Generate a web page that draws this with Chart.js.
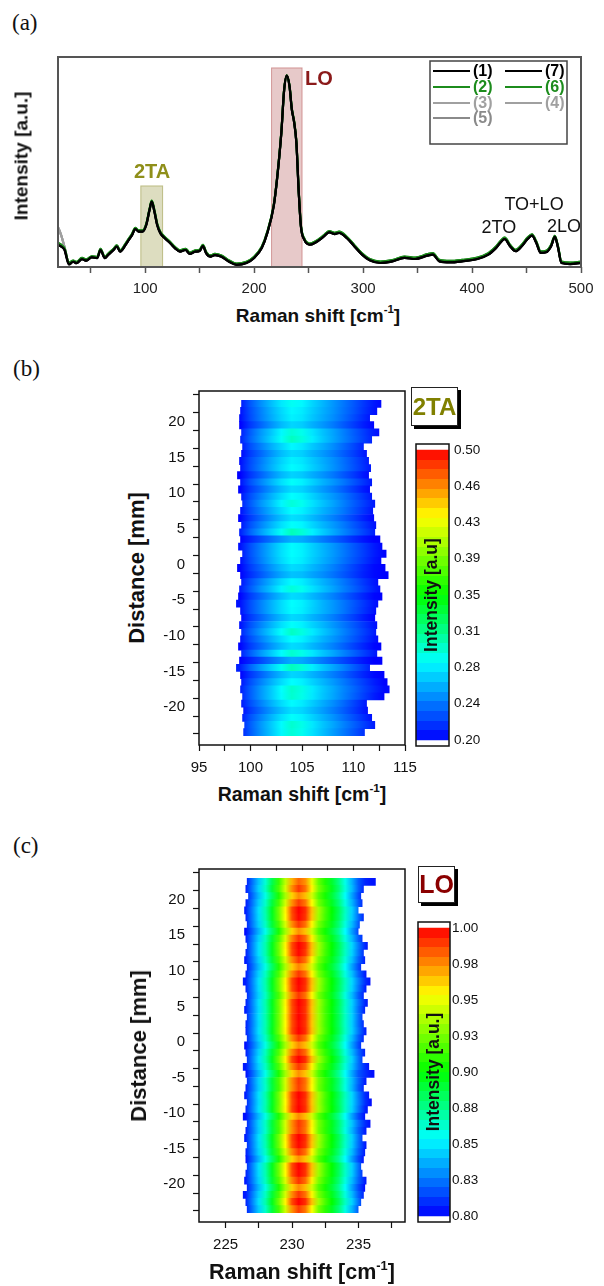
<!DOCTYPE html>
<html>
<head>
<meta charset="utf-8">
<script src="https://cdn.jsdelivr.net/npm/chart.js@4.4.0/dist/chart.umd.min.js"></script>
<style>
  body { margin: 0; width: 604px; height: 1286px; background: #fff; position: relative; overflow: hidden;
         font-family: "Liberation Sans", Arial, sans-serif; }
  canvas { position: absolute; }
  .panel { position: absolute; font-family: "Liberation Serif", "Times New Roman", serif; font-size: 23px;
           color: #111; line-height: 1; transform: translateY(-50%); }
  .ttl { position: absolute; font-weight: bold; color: #111; white-space: nowrap; line-height: 1;
         transform: translate(-50%, -50%); }
  .ttl.v { transform: translate(-50%, -50%) rotate(-90deg); }
  .ttl sup { font-size: 0.6em; vertical-align: 0.75em; line-height: 0; }
  .tag { position: absolute; background: #fff; border: 1.5px solid #222; box-shadow: 3px 3px 0 #000;
         font-weight: bold; display: flex; align-items: center; justify-content: center; box-sizing: border-box; }
</style>
</head>
<body>

<div class="panel" style="left:12px;top:22px">(a)</div>
<div class="panel" style="left:13px;top:368px">(b)</div>
<div class="panel" style="left:13px;top:845px">(c)</div>

<canvas id="spec" width="575" height="253" style="left:20px;top:47px"></canvas>
<canvas id="mapTA" width="275" height="397" style="left:150px;top:383px"></canvas>
<canvas id="cbTA" width="85" height="320" style="left:410px;top:436px"></canvas>
<canvas id="mapLO" width="275" height="397" style="left:150px;top:861px"></canvas>
<canvas id="cbLO" width="85" height="320" style="left:410px;top:914px"></canvas>

<div class="ttl" style="left:318px;top:315px;font-size:19px">Raman shift [cm<sup>-1</sup>]</div>
<div class="ttl v" style="left:21px;top:156px;font-size:19px">Intensity [a.u.]</div>
<div class="ttl" style="left:302px;top:795px;font-size:19.5px">Raman shift [cm<sup>-1</sup>]</div>
<div class="ttl v" style="left:137px;top:568px;font-size:22px">Distance [mm]</div>
<div class="ttl" style="left:302px;top:1273px;font-size:21.5px">Raman shift [cm<sup>-1</sup>]</div>
<div class="ttl v" style="left:139px;top:1046px;font-size:22px">Distance [mm]</div>

<div class="tag" style="left:411px;top:387px;width:47px;height:39px;font-size:24px;color:#808000">2TA</div>
<div class="tag" style="left:418px;top:866px;width:37px;height:37px;font-size:25px;color:#8b0000">LO</div>

<script>
// ---- (a) Raman spectra ----
const ramanShift = [20,23,26,30,34,37,42,46,51,56, 59,63,66,71,74,77,82,85,88,91,
  94,97.5,101,104,106,108.5,111,114,118,123, 127.5,132,137,141,146,150,153,156,160,164,
  170,177,184,193,200,207,212,218,221,225, 227.5,230,232.5,234.6,236.7,238.8,241,243,246,251,
  256.5,263.5,269,274,278,285,292,299,306,316, 327,338,348,359,364,370,380,391,405,415,
  422,430,435,440,445,451,455,459,463,468, 472.5,476,479,482,490,500];
const specBlack = [0.105,0.097,0.081,0.012,0.025,0.018,0.037,0.030,0.046,0.042,
  0.081,0.042,0.057,0.081,0.097,0.073,0.105,0.129,0.152,0.181,
  0.168,0.168,0.200,0.271,0.311,0.263,0.200,0.160,0.137,0.113,
  0.089,0.073,0.081,0.062,0.073,0.076,0.100,0.065,0.049,0.057,
  0.049,0.025,0.010,0.019,0.043,0.090,0.160,0.290,0.416,0.640,
  0.840,0.911,0.860,0.750,0.690,0.590,0.350,0.190,0.130,0.106,
  0.117,0.143,0.165,0.157,0.162,0.138,0.098,0.059,0.032,0.019,
  0.027,0.043,0.038,0.054,0.059,0.027,0.022,0.027,0.038,0.059,
  0.090,0.133,0.098,0.075,0.095,0.133,0.149,0.114,0.067,0.070,
  0.098,0.143,0.090,0.019,0.014,0.019];
const specGreen = [0.115,0.105,0.088,0.020,0.030,0.024,0.043,0.036,0.051,0.048,
  0.086,0.048,0.063,0.087,0.103,0.079,0.111,0.135,0.158,0.187,
  0.174,0.174,0.206,0.276,0.316,0.270,0.207,0.167,0.143,0.119,
  0.095,0.079,0.087,0.068,0.079,0.082,0.106,0.071,0.055,0.063,
  0.055,0.031,0.016,0.025,0.049,0.096,0.166,0.296,0.420,0.644,
  0.842,0.913,0.862,0.754,0.694,0.595,0.356,0.196,0.136,0.112,
  0.123,0.149,0.171,0.163,0.168,0.144,0.104,0.065,0.038,0.026,
  0.033,0.050,0.045,0.061,0.066,0.034,0.029,0.034,0.045,0.066,
  0.097,0.140,0.105,0.082,0.102,0.140,0.156,0.121,0.074,0.077,
  0.105,0.148,0.096,0.026,0.021,0.026];
const specGray = [0.190,0.150,0.095,0.020,0.028,0.020,0.040,0.032,0.048,0.044,
  0.083,0.044,0.059,0.083,0.099,0.075,0.106,0.131,0.154,0.183,
  0.170,0.170,0.202,0.272,0.310,0.264,0.202,0.162,0.139,0.115,
  0.090,0.075,0.083,0.064,0.075,0.078,0.101,0.067,0.051,0.059,
  0.051,0.027,0.012,0.021,0.045,0.092,0.162,0.292,0.418,0.642,
  0.838,0.905,0.856,0.748,0.688,0.590,0.352,0.192,0.132,0.108,
  0.119,0.145,0.167,0.159,0.164,0.140,0.100,0.061,0.034,0.021,
  0.029,0.045,0.040,0.056,0.061,0.029,0.024,0.029,0.040,0.061,
  0.092,0.135,0.100,0.077,0.097,0.135,0.151,0.116,0.069,0.072,
  0.100,0.145,0.092,0.021,0.016,0.021];
// legend order (two columns): (1) (7) / (2) (6) / (3) (4) / (5)
const seriesLabels = ['(1)', '(7)', '(2)', '(6)', '(3)', '(4)', '(5)'];
const seriesColors = ['#000000', '#000000', '#1c8c1c', '#1c8c1c', '#a0a0a0', '#a0a0a0', '#8a8a8a'];
const seriesData = [specBlack, specBlack, specGreen, specGreen, specGray, specGray, specGray];
const specTicks = [50,100,150,200,250,300,350,400,450,500];

const specBands = [
  { from: 96, to: 116, top: 0.386, fill: 'rgba(150,150,60,0.32)', line: 'rgba(150,150,60,0.55)' },
  { from: 216, to: 244, top: 0.948, fill: 'rgba(170,60,60,0.28)', line: 'rgba(170,60,60,0.45)' },
];
const specNotes = [
  { text: '2TA', x: 106.3, y: 0.452, color: '#8f8f1a', font: 'bold 20px' },
  { text: 'LO', x: 259.5, y: 0.895, color: '#8b1a1a', font: 'bold 20px' },
  { text: '2TO', x: 424.7, y: 0.186, color: '#111', font: '18px' },
  { text: 'TO+LO', x: 456.9, y: 0.295, color: '#111', font: '18px' },
  { text: '2LO', x: 484.4, y: 0.190, color: '#111', font: '18px' },
];

// ---- (b) 2TA map ----
const mapDist = [22.5,21.5,20.5,19.5,18.5,17.5,16.5,15.5,14.5,13.5,12.5,11.5,10.5,9.5,8.5,7.5,6.5,5.5,4.5,3.5,
  2.5,1.5,0.5,-0.5,-1.5,-2.5,-3.5,-4.5,-5.5,-6.5,-7.5,-8.5,-9.5,-10.5,-11.5,-12.5,-13.5,-14.5,-15.5,-16.5,
  -17.5,-18.5,-19.5,-20.5,-21.5,-22.5,-23.5];
const mapYTicks = [-22.5,-20,-17.5,-15,-12.5,-10,-7.5,-5,-2.5,0,2.5,5,7.5,10,12.5,15,17.5,20,22.5];

const taShift = [99,100,101,102,103,104,105,106,107,108,109,110,111,112,113];
const taLeft = [99.1,99.0,98.9,98.9,99.1,99.0,99.2,99.1,98.9,99.0,98.7,99.0,98.8,99.1,99.2,99.0,98.8,99.1,98.9,99.0,
  98.8,99.2,99.0,98.7,99.0,99.1,98.9,98.8,98.6,99.0,99.1,98.9,99.1,99.0,98.8,99.1,98.9,98.6,99.0,99.1,
  99.0,99.2,99.1,99.3,99.2,99.4,99.3];
const taRight = [112.7,112.3,111.6,112.0,112.5,111.8,111.0,111.3,111.5,111.7,111.5,111.8,111.6,111.8,112.1,111.9,112.0,112.2,112.1,112.6,
  112.8,113.2,112.7,113.1,113.4,112.4,112.6,112.8,112.4,112.2,112.1,112.3,112.2,112.4,112.7,112.3,112.8,111.6,113.0,113.3,
  113.5,113.0,111.3,111.4,111.8,112.1,111.1];
const taInt = [
  [0.206,0.228,0.245,0.260,0.274,0.284,0.279,0.268,0.258,0.248,0.238,0.228,0.217,0.207,0.200],
  [0.205,0.225,0.241,0.256,0.269,0.279,0.275,0.265,0.256,0.247,0.237,0.227,0.216,0.206,0.200],
  [0.204,0.224,0.240,0.254,0.267,0.277,0.273,0.263,0.254,0.245,0.235,0.224,0.213,0.203,0.200],
  [0.200,0.218,0.232,0.246,0.259,0.268,0.265,0.256,0.248,0.239,0.229,0.219,0.209,0.201,0.200],
  [0.208,0.230,0.248,0.263,0.279,0.292,0.286,0.273,0.262,0.252,0.241,0.230,0.219,0.208,0.200],
  [0.210,0.232,0.250,0.266,0.283,0.298,0.290,0.276,0.264,0.253,0.242,0.231,0.220,0.209,0.200],
  [0.205,0.225,0.240,0.255,0.268,0.279,0.274,0.264,0.255,0.245,0.234,0.223,0.211,0.200,0.200],
  [0.201,0.219,0.233,0.247,0.260,0.269,0.266,0.257,0.249,0.240,0.230,0.220,0.209,0.200,0.200],
  [0.204,0.224,0.239,0.254,0.267,0.277,0.273,0.264,0.255,0.246,0.236,0.225,0.214,0.203,0.200],
  [0.205,0.225,0.241,0.256,0.270,0.280,0.276,0.266,0.257,0.247,0.237,0.226,0.215,0.204,0.200],
  [0.200,0.217,0.231,0.245,0.258,0.267,0.264,0.255,0.247,0.238,0.228,0.218,0.207,0.200,0.200],
  [0.205,0.226,0.242,0.257,0.271,0.282,0.277,0.267,0.257,0.248,0.238,0.227,0.216,0.205,0.200],
  [0.201,0.219,0.233,0.247,0.260,0.270,0.267,0.258,0.249,0.240,0.230,0.219,0.208,0.200,0.200],
  [0.205,0.225,0.241,0.256,0.270,0.281,0.277,0.267,0.257,0.248,0.238,0.227,0.216,0.205,0.200],
  [0.208,0.229,0.247,0.262,0.278,0.291,0.285,0.272,0.262,0.252,0.241,0.230,0.219,0.208,0.200],
  [0.205,0.225,0.241,0.256,0.270,0.281,0.277,0.267,0.257,0.248,0.238,0.227,0.216,0.205,0.200],
  [0.201,0.219,0.234,0.248,0.261,0.271,0.268,0.259,0.250,0.241,0.231,0.221,0.210,0.201,0.200],
  [0.205,0.226,0.242,0.257,0.271,0.282,0.278,0.268,0.258,0.249,0.239,0.228,0.217,0.206,0.200],
  [0.210,0.232,0.250,0.266,0.284,0.300,0.292,0.277,0.265,0.254,0.243,0.232,0.221,0.210,0.200],
  [0.200,0.212,0.224,0.236,0.247,0.256,0.254,0.247,0.239,0.231,0.223,0.214,0.206,0.200,0.200],
  [0.205,0.225,0.241,0.256,0.270,0.280,0.276,0.266,0.257,0.248,0.238,0.228,0.218,0.208,0.200],
  [0.205,0.226,0.242,0.257,0.271,0.281,0.277,0.267,0.258,0.249,0.239,0.229,0.219,0.209,0.201],
  [0.204,0.224,0.240,0.255,0.269,0.279,0.275,0.265,0.256,0.247,0.237,0.227,0.217,0.207,0.200],
  [0.201,0.219,0.233,0.247,0.260,0.270,0.267,0.258,0.250,0.241,0.231,0.221,0.211,0.203,0.200],
  [0.200,0.215,0.228,0.241,0.253,0.262,0.260,0.252,0.245,0.237,0.228,0.219,0.210,0.203,0.200],
  [0.205,0.225,0.241,0.256,0.270,0.280,0.276,0.266,0.257,0.248,0.238,0.228,0.217,0.207,0.200],
  [0.208,0.229,0.247,0.262,0.278,0.291,0.285,0.272,0.262,0.252,0.241,0.231,0.220,0.209,0.200],
  [0.201,0.219,0.233,0.247,0.260,0.270,0.267,0.258,0.250,0.241,0.231,0.221,0.211,0.202,0.200],
  [0.205,0.225,0.241,0.256,0.270,0.281,0.277,0.267,0.257,0.248,0.238,0.228,0.217,0.206,0.200],
  [0.205,0.225,0.241,0.256,0.270,0.280,0.276,0.266,0.257,0.248,0.238,0.227,0.216,0.205,0.200],
  [0.201,0.218,0.232,0.246,0.259,0.269,0.266,0.257,0.249,0.240,0.230,0.220,0.209,0.200,0.200],
  [0.205,0.226,0.242,0.257,0.271,0.282,0.277,0.267,0.258,0.248,0.238,0.228,0.217,0.206,0.200],
  [0.210,0.231,0.249,0.265,0.282,0.297,0.289,0.275,0.264,0.253,0.242,0.231,0.220,0.209,0.200],
  [0.205,0.225,0.241,0.256,0.270,0.281,0.277,0.267,0.257,0.248,0.238,0.228,0.217,0.206,0.200],
  [0.201,0.219,0.233,0.247,0.260,0.270,0.267,0.258,0.250,0.241,0.231,0.221,0.211,0.202,0.200],
  [0.209,0.230,0.248,0.264,0.280,0.294,0.287,0.274,0.263,0.253,0.242,0.231,0.220,0.209,0.200],
  [0.200,0.211,0.223,0.235,0.246,0.255,0.253,0.246,0.238,0.230,0.222,0.214,0.206,0.200,0.200],
  [0.210,0.232,0.250,0.266,0.284,0.299,0.291,0.276,0.264,0.253,0.242,0.230,0.218,0.206,0.200],
  [0.200,0.217,0.231,0.245,0.258,0.268,0.265,0.257,0.249,0.240,0.231,0.221,0.211,0.203,0.200],
  [0.205,0.225,0.241,0.256,0.270,0.281,0.277,0.267,0.258,0.249,0.239,0.229,0.219,0.209,0.201],
  [0.209,0.230,0.248,0.264,0.281,0.295,0.288,0.275,0.264,0.254,0.243,0.233,0.222,0.212,0.203],
  [0.209,0.230,0.248,0.264,0.280,0.294,0.287,0.274,0.263,0.253,0.242,0.231,0.220,0.209,0.201],
  [0.205,0.225,0.241,0.256,0.270,0.280,0.275,0.265,0.255,0.245,0.234,0.222,0.210,0.200,0.200],
  [0.201,0.219,0.234,0.248,0.261,0.271,0.268,0.259,0.250,0.240,0.230,0.219,0.208,0.200,0.200],
  [0.205,0.226,0.242,0.257,0.271,0.282,0.277,0.267,0.257,0.247,0.236,0.225,0.214,0.203,0.200],
  [0.209,0.230,0.248,0.264,0.280,0.294,0.287,0.274,0.263,0.253,0.242,0.231,0.220,0.209,0.200],
  [0.208,0.229,0.247,0.263,0.279,0.292,0.285,0.272,0.261,0.250,0.239,0.228,0.216,0.204,0.200],
];
const taXTicks = [95,97.5,100,102.5,105,107.5,110,112.5,115];
const taBarTicks = [0.2,0.2375,0.275,0.3125,0.35,0.3875,0.425,0.4625,0.5];
const taBarLabels = ['0.20','0.24','0.28','0.31','0.35','0.39','0.43','0.46','0.50'];

// ---- (c) LO map ----
const loShift = [226.5,227,227.5,228,228.5,229,229.5,230,230.5,231,231.5,232,232.5,233,233.5,234,234.5,235,235.5,236];
const loLeft = [226.6,226.5,226.7,226.5,226.4,226.5,226.6,226.4,226.5,226.6,226.5,226.4,226.6,226.5,226.3,226.5,226.6,226.5,226.4,226.6,
  226.5,226.5,226.6,226.4,226.5,226.6,226.3,226.5,226.6,226.5,226.4,226.6,226.5,226.3,226.6,226.5,226.4,226.6,226.5,226.5,
  226.6,226.5,226.4,226.6,226.3,226.5,226.6];
const loRight = [236.3,235.4,235.2,235.3,235.0,235.4,235.1,235.0,235.3,235.7,235.4,235.5,235.2,235.6,235.9,235.6,235.4,235.7,235.5,235.3,
  235.4,235.6,235.4,235.2,235.5,235.3,235.8,236.2,235.6,235.4,235.8,236.0,235.7,235.5,235.9,235.6,235.3,235.6,235.5,235.4,
  235.2,235.3,235.6,235.5,235.4,235.2,235.0];
const loInt = [
  [0.804,0.823,0.842,0.862,0.886,0.911,0.940,0.968,0.982,0.974,0.950,0.921,0.906,0.892,0.877,0.858,0.838,0.819,0.808,0.804],
  [0.805,0.825,0.845,0.865,0.890,0.915,0.945,0.975,0.990,0.980,0.955,0.925,0.910,0.895,0.880,0.860,0.840,0.820,0.805,0.800],
  [0.803,0.821,0.840,0.859,0.882,0.906,0.935,0.962,0.975,0.966,0.944,0.918,0.904,0.890,0.875,0.855,0.835,0.816,0.802,0.800],
  [0.805,0.824,0.844,0.864,0.889,0.914,0.944,0.974,0.989,0.979,0.954,0.924,0.909,0.894,0.879,0.859,0.839,0.819,0.804,0.800],
  [0.806,0.827,0.848,0.869,0.895,0.923,0.955,0.987,1.000,0.992,0.965,0.934,0.915,0.900,0.885,0.865,0.845,0.824,0.806,0.800],
  [0.806,0.826,0.847,0.868,0.894,0.922,0.954,0.986,0.999,0.991,0.964,0.933,0.914,0.899,0.884,0.864,0.844,0.823,0.805,0.800],
  [0.805,0.825,0.845,0.865,0.890,0.915,0.945,0.975,0.990,0.980,0.955,0.925,0.910,0.895,0.880,0.860,0.840,0.820,0.804,0.800],
  [0.802,0.820,0.839,0.858,0.881,0.905,0.934,0.961,0.974,0.965,0.943,0.917,0.903,0.889,0.874,0.854,0.834,0.815,0.801,0.800],
  [0.805,0.825,0.845,0.866,0.891,0.916,0.946,0.976,0.991,0.981,0.956,0.926,0.910,0.895,0.880,0.860,0.840,0.820,0.805,0.800],
  [0.806,0.827,0.848,0.869,0.895,0.923,0.955,0.987,1.000,0.992,0.965,0.934,0.915,0.900,0.885,0.866,0.846,0.826,0.808,0.800],
  [0.806,0.827,0.848,0.869,0.895,0.922,0.954,0.986,0.999,0.990,0.964,0.933,0.914,0.899,0.884,0.865,0.845,0.825,0.807,0.800],
  [0.805,0.824,0.844,0.865,0.890,0.915,0.945,0.975,0.990,0.980,0.955,0.925,0.910,0.895,0.880,0.861,0.841,0.821,0.806,0.800],
  [0.803,0.821,0.840,0.859,0.882,0.907,0.936,0.963,0.976,0.967,0.945,0.919,0.904,0.890,0.875,0.855,0.835,0.816,0.802,0.800],
  [0.805,0.825,0.845,0.865,0.890,0.915,0.945,0.975,0.990,0.980,0.955,0.925,0.910,0.895,0.880,0.860,0.841,0.821,0.806,0.800],
  [0.806,0.827,0.848,0.869,0.895,0.923,0.955,0.987,1.000,0.992,0.965,0.934,0.915,0.900,0.885,0.866,0.846,0.827,0.810,0.801],
  [0.806,0.826,0.847,0.868,0.894,0.922,0.954,0.986,0.999,0.991,0.964,0.933,0.914,0.899,0.884,0.865,0.845,0.825,0.807,0.800],
  [0.805,0.825,0.845,0.865,0.890,0.915,0.945,0.975,0.990,0.980,0.955,0.925,0.910,0.895,0.880,0.860,0.840,0.820,0.805,0.800],
  [0.806,0.827,0.848,0.869,0.895,0.923,0.955,0.987,1.000,0.992,0.965,0.934,0.915,0.900,0.885,0.865,0.845,0.825,0.808,0.800],
  [0.806,0.826,0.847,0.868,0.894,0.922,0.954,0.986,0.999,0.991,0.964,0.933,0.914,0.899,0.884,0.864,0.844,0.823,0.806,0.800],
  [0.806,0.827,0.848,0.869,0.895,0.923,0.955,0.987,1.000,0.992,0.965,0.934,0.915,0.900,0.885,0.865,0.845,0.824,0.805,0.800],
  [0.806,0.826,0.847,0.868,0.894,0.922,0.954,0.986,0.999,0.991,0.964,0.933,0.914,0.899,0.884,0.864,0.844,0.823,0.806,0.800],
  [0.806,0.827,0.848,0.869,0.895,0.923,0.955,0.987,1.000,0.992,0.965,0.934,0.915,0.900,0.885,0.865,0.845,0.825,0.807,0.800],
  [0.805,0.825,0.845,0.865,0.890,0.915,0.945,0.975,0.990,0.980,0.955,0.925,0.910,0.895,0.880,0.860,0.840,0.820,0.805,0.800],
  [0.803,0.821,0.840,0.859,0.882,0.906,0.935,0.962,0.975,0.966,0.944,0.918,0.904,0.890,0.875,0.855,0.835,0.816,0.802,0.800],
  [0.805,0.825,0.845,0.866,0.891,0.916,0.946,0.976,0.991,0.981,0.956,0.926,0.910,0.895,0.880,0.860,0.840,0.821,0.806,0.800],
  [0.806,0.827,0.848,0.869,0.895,0.923,0.955,0.987,1.000,0.992,0.965,0.934,0.915,0.900,0.885,0.865,0.845,0.824,0.805,0.800],
  [0.805,0.825,0.845,0.865,0.890,0.915,0.945,0.975,0.990,0.980,0.955,0.925,0.910,0.895,0.880,0.861,0.842,0.823,0.809,0.801],
  [0.802,0.820,0.839,0.858,0.881,0.905,0.934,0.961,0.974,0.965,0.943,0.917,0.903,0.889,0.874,0.855,0.836,0.818,0.810,0.803],
  [0.805,0.825,0.845,0.865,0.890,0.915,0.945,0.975,0.990,0.980,0.955,0.925,0.910,0.895,0.880,0.860,0.840,0.821,0.806,0.800],
  [0.805,0.824,0.844,0.864,0.889,0.914,0.944,0.974,0.989,0.979,0.954,0.924,0.909,0.894,0.879,0.859,0.839,0.819,0.805,0.800],
  [0.806,0.827,0.848,0.869,0.895,0.923,0.955,0.987,1.000,0.992,0.965,0.934,0.915,0.900,0.885,0.866,0.846,0.826,0.809,0.801],
  [0.806,0.826,0.847,0.868,0.894,0.922,0.954,0.986,0.999,0.991,0.964,0.933,0.914,0.899,0.884,0.865,0.846,0.827,0.810,0.802],
  [0.806,0.827,0.848,0.869,0.895,0.923,0.955,0.987,1.000,0.992,0.965,0.934,0.915,0.900,0.885,0.865,0.845,0.825,0.807,0.800],
  [0.803,0.821,0.840,0.859,0.882,0.906,0.935,0.962,0.975,0.966,0.944,0.918,0.904,0.890,0.875,0.855,0.835,0.816,0.803,0.800],
  [0.805,0.825,0.845,0.865,0.890,0.915,0.945,0.975,0.990,0.980,0.955,0.925,0.910,0.895,0.880,0.861,0.842,0.823,0.809,0.801],
  [0.805,0.824,0.844,0.864,0.889,0.914,0.944,0.974,0.989,0.979,0.954,0.924,0.909,0.894,0.879,0.859,0.839,0.820,0.806,0.800],
  [0.806,0.827,0.848,0.869,0.895,0.923,0.955,0.987,1.000,0.992,0.965,0.934,0.915,0.900,0.885,0.865,0.845,0.824,0.805,0.800],
  [0.806,0.826,0.847,0.868,0.894,0.922,0.954,0.986,0.999,0.991,0.964,0.933,0.914,0.899,0.884,0.864,0.844,0.823,0.806,0.800],
  [0.805,0.825,0.845,0.865,0.890,0.915,0.945,0.975,0.990,0.980,0.955,0.925,0.910,0.895,0.880,0.860,0.840,0.820,0.805,0.800],
  [0.802,0.820,0.839,0.858,0.881,0.905,0.934,0.961,0.974,0.965,0.943,0.917,0.903,0.889,0.874,0.854,0.834,0.815,0.801,0.800],
  [0.806,0.827,0.848,0.869,0.895,0.923,0.955,0.987,1.000,0.992,0.965,0.934,0.915,0.900,0.885,0.865,0.845,0.824,0.804,0.800],
  [0.806,0.826,0.847,0.868,0.894,0.922,0.954,0.986,0.999,0.991,0.964,0.933,0.914,0.899,0.884,0.864,0.844,0.823,0.805,0.800],
  [0.805,0.825,0.845,0.866,0.891,0.916,0.946,0.976,0.991,0.981,0.956,0.926,0.910,0.895,0.880,0.860,0.840,0.821,0.806,0.800],
  [0.803,0.821,0.840,0.859,0.882,0.906,0.935,0.962,0.975,0.966,0.944,0.918,0.904,0.890,0.875,0.855,0.835,0.816,0.802,0.800],
  [0.805,0.825,0.845,0.865,0.890,0.915,0.945,0.975,0.990,0.980,0.955,0.925,0.910,0.895,0.880,0.860,0.840,0.820,0.805,0.800],
  [0.806,0.827,0.848,0.869,0.895,0.923,0.955,0.987,1.000,0.992,0.965,0.934,0.915,0.900,0.885,0.865,0.845,0.824,0.804,0.800],
  [0.805,0.824,0.844,0.864,0.889,0.914,0.944,0.974,0.989,0.979,0.954,0.924,0.909,0.894,0.879,0.859,0.839,0.819,0.803,0.800],
];
const loXTicks = [225,227.5,230,232.5,235,237.5];
const loBarTicks = [0.8,0.825,0.85,0.875,0.9,0.925,0.95,0.975,1.0];
const loBarLabels = ['0.80','0.83','0.85','0.88','0.90','0.93','0.95','0.98','1.00'];

// ---------------------------------------------------------------
Chart.defaults.font.family = "'Liberation Sans', Arial, sans-serif";
Chart.defaults.color = '#111';

const JET = [[0, 0, 0, 255], [0.27, 0, 255, 255], [0.5, 0, 255, 0], [0.77, 255, 255, 0], [1, 255, 0, 0]];
function jet(t) {
  t = Math.max(0, Math.min(1, t));
  for (let k = 1; k < JET.length; k++) {
    if (t <= JET[k][0]) {
      const a = JET[k - 1], b = JET[k], f = (t - a[0]) / (b[0] - a[0]);
      const c = i => Math.round(a[i] + (b[i] - a[i]) * f);
      return `rgb(${c(1)},${c(2)},${c(3)})`;
    }
  }
  return 'rgb(255,0,0)';
}

const framePlugin = (color, width) => ({
  id: 'frame',
  afterDatasetsDraw(chart) {
    const { ctx, chartArea: a } = chart;
    ctx.save();
    ctx.strokeStyle = color; ctx.lineWidth = width;
    ctx.strokeRect(a.left, a.top, a.right - a.left, a.bottom - a.top);
    ctx.restore();
  }
});

const fixTicks = list => scale => { scale.ticks = list.map(v => ({ value: v })); };
// fixed axis size, and no extra room asked for the end labels
const fixSize = (key, n) => s => {
  s[key] = n;
  s.paddingTop = 0; s.paddingBottom = 0; s.paddingLeft = 0; s.paddingRight = 0;
};

// ---- (a) ----
new Chart(document.getElementById('spec'), {
  type: 'line',
  data: {
    datasets: seriesLabels.map((lab, k) => ({
      label: lab,
      data: ramanShift.map((x, i) => ({ x, y: seriesData[k][i] })),
      borderColor: seriesColors[k], borderWidth: 2.2, pointRadius: 0,
      cubicInterpolationMode: 'monotone', fill: false,
    })),
  },
  options: {
    responsive: false, animation: false,
    layout: { padding: { top: 10, right: 14, left: 0, bottom: 0 } },
    plugins: { legend: { display: false }, tooltip: { enabled: false } },
    scales: {
      x: {
        type: 'linear', min: 20, max: 500,
        afterBuildTicks: fixTicks(specTicks),
        ticks: { callback: v => v % 100 === 0 ? String(v) : '', font: { size: 15 }, color: '#222',
                 padding: 7, maxRotation: 0, autoSkip: false },
        grid: { drawOnChartArea: false, tickLength: 6, tickColor: '#555', tickWidth: 1.5 },
        border: { display: false },
        afterFit: fixSize('height', 33),
      },
      y: {
        min: 0, max: 1,
        ticks: { display: false }, grid: { display: false, drawTicks: false }, border: { display: false },
        afterFit: fixSize('width', 38),
      },
    },
  },
  plugins: [{
    id: 'bands',
    beforeDatasetsDraw(chart) {
      const { ctx, scales: { x, y } } = chart;
      ctx.save();
      specBands.forEach(b => {
        const l = x.getPixelForValue(b.from), r = x.getPixelForValue(b.to);
        const t = y.getPixelForValue(b.top), btm = y.getPixelForValue(0);
        ctx.fillStyle = b.fill; ctx.fillRect(l, t, r - l, btm - t);
        ctx.strokeStyle = b.line; ctx.lineWidth = 1; ctx.strokeRect(l, t, r - l, btm - t);
      });
      ctx.restore();
    },
    afterDatasetsDraw(chart) {
      const { ctx, scales: { x, y } } = chart;
      ctx.save();
      ctx.textAlign = 'center'; ctx.textBaseline = 'middle';
      specNotes.forEach(n => {
        ctx.font = `${n.font} 'Liberation Sans', Arial, sans-serif`;
        ctx.fillStyle = n.color;
        ctx.fillText(n.text, x.getPixelForValue(n.x), y.getPixelForValue(n.y));
      });
      ctx.restore();
    },
  }, framePlugin('#555', 2), {
    id: 'boxLegend',
    afterDraw(chart) {
      const { ctx, chartArea: a } = chart;
      const bx = a.right - 151, by = a.top + 4, bw = 137, bh = 83;
      ctx.save();
      ctx.fillStyle = '#fff'; ctx.fillRect(bx, by, bw, bh);
      ctx.strokeStyle = '#444'; ctx.lineWidth = 1.5; ctx.strokeRect(bx, by, bw, bh);
      ctx.font = "bold 16px 'Liberation Sans', Arial, sans-serif";
      ctx.textBaseline = 'middle'; ctx.textAlign = 'left';
      const rowsY = [10, 26, 42, 57];
      chart.data.datasets.forEach((ds, k) => {
        const col = k % 2, row = Math.floor(k / 2);
        const lx = bx + 3 + col * 72, ly = by + rowsY[row];
        ctx.strokeStyle = ds.borderColor; ctx.lineWidth = 2.2;
        ctx.beginPath(); ctx.moveTo(lx, ly); ctx.lineTo(lx + 37, ly); ctx.stroke();
        ctx.fillStyle = ds.borderColor;
        ctx.fillText(ds.label, lx + 40, ly + 1);
      });
      ctx.restore();
    },
  }],
});

// ---- (b), (c) maps ----
function rowGradient(chart, cols, vals, vmin, vmax) {
  const xs = chart.scales.x;
  if (!xs) return null;
  const x0 = xs.getPixelForValue(cols[0]), x1 = xs.getPixelForValue(cols[cols.length - 1]);
  if (!isFinite(x0) || !isFinite(x1) || x1 <= x0) return null;
  const g = chart.ctx.createLinearGradient(x0, 0, x1, 0);
  cols.forEach((c, k) => g.addColorStop((xs.getPixelForValue(c) - x0) / (x1 - x0), jet((vals[k] - vmin) / (vmax - vmin))));
  return g;
}

function mapChart(id, m) {
  const chart = new Chart(document.getElementById(id), {
    type: 'bar',
    data: {
      datasets: [{
        data: mapDist.map((d, i) => ({ y: d, x: [m.left[i], m.right[i]] })),
        backgroundColor: c => (c.type === 'data'
          && rowGradient(c.chart, m.shift, m.int[c.dataIndex], m.vmin, m.vmax)) || '#0000ff',
        borderWidth: 0, categoryPercentage: 1, barPercentage: 1.1,
      }],
    },
    options: {
      indexAxis: 'y', responsive: false, animation: false,
      layout: { padding: { top: 8, right: 20, left: 0, bottom: 0 } },
      plugins: { legend: { display: false }, tooltip: { enabled: false } },
      scales: {
        x: {
          type: 'linear', min: m.xMin, max: m.xMax,
          afterBuildTicks: fixTicks(m.xTicks),
          ticks: { callback: v => v % 5 === 0 ? String(v) : '', font: { size: 15 }, color: '#111',
                   padding: 8, maxRotation: 0, autoSkip: false },
          grid: { drawOnChartArea: false, tickLength: 6, tickColor: '#111', tickWidth: 1.2 },
          border: { display: false },
          afterFit: fixSize('height', m.xh),
        },
        y: {
          type: 'linear', min: -24, max: 23,
          afterBuildTicks: fixTicks(mapYTicks),
          ticks: { callback: v => v % 5 === 0 ? String(v) : '', font: { size: 15 }, color: '#111',
                   padding: 8, autoSkip: false },
          grid: { drawOnChartArea: false, tickLength: 6, tickColor: '#111', tickWidth: 1.2 },
          border: { display: false },
          afterFit: fixSize('width', 49),
        },
      },
    },
    plugins: [framePlugin('#111', 1.5)],
  });
  chart.update('none');
}

mapChart('mapTA', { shift: taShift, left: taLeft, right: taRight, int: taInt, vmin: 0.2, vmax: 0.5,
  xMin: 95, xMax: 115, xTicks: taXTicks, xh: 35 });
mapChart('mapLO', { shift: loShift, left: loLeft, right: loRight, int: loInt, vmin: 0.8, vmax: 1.0,
  xMin: 223, xMax: 238.5, xTicks: loXTicks, xh: 36 });

// ---- colour bars ----
const CB_LEVELS = 30;
function colorbar(id, cb) {
  const pad = (cb.vmax - cb.vmin) * 0.0207;
  const chart = new Chart(document.getElementById(id), {
    type: 'bar',
    data: {
      labels: ['scale'],
      datasets: [{
        data: [[cb.vmin, cb.vmax]],
        backgroundColor: c => {
          const ys = c.chart.scales.y;
          if (!ys) return '#0000ff';
          const y0 = ys.getPixelForValue(cb.vmin), y1 = ys.getPixelForValue(cb.vmax);
          if (!isFinite(y0) || !isFinite(y1) || y0 === y1) return '#0000ff';
          const g = c.chart.ctx.createLinearGradient(0, y0, 0, y1);
          for (let k = 0; k < CB_LEVELS; k++) {
            const col = jet((k + 0.5) / CB_LEVELS);
            g.addColorStop(k / CB_LEVELS, col);
            g.addColorStop((k + 1) / CB_LEVELS, col);
          }
          return g;
        },
        borderWidth: 0, barPercentage: 1, categoryPercentage: 1,
      }],
    },
    options: {
      responsive: false, animation: false,
      layout: { padding: { left: cb.padL, top: 8, bottom: cb.padB, right: 0 } },
      plugins: { legend: { display: false }, tooltip: { enabled: false } },
      scales: {
        x: { display: false },
        y: {
          position: 'right', min: cb.vmin - pad, max: cb.vmax + pad,
          afterBuildTicks: fixTicks(cb.ticks),
          ticks: { callback: (v, i) => cb.labels[i], font: { size: 13.5 }, color: '#111',
                   padding: cb.labelPad, autoSkip: false },
          grid: { display: false, drawTicks: false },
          border: { display: false },
          afterFit: fixSize('width', cb.axisW),
        },
      },
    },
    plugins: [framePlugin('#111', 1.5)],
  });
  chart.update('none');
}

colorbar('cbTA', { vmin: 0.2, vmax: 0.5, ticks: taBarTicks, labels: taBarLabels, padL: 6, padB: 10, axisW: 46, labelPad: 5 });
colorbar('cbLO', { vmin: 0.8, vmax: 1.0, ticks: loBarTicks, labels: loBarLabels, padL: 8, padB: 12, axisW: 45, labelPad: 2 });
</script>

<div class="ttl v" style="left:432px;top:595px;font-size:17.5px">Intensity [a.u]</div>
<div class="ttl v" style="left:434px;top:1072px;font-size:17.5px">Intensity [a.u.]</div>

</body>
</html>
